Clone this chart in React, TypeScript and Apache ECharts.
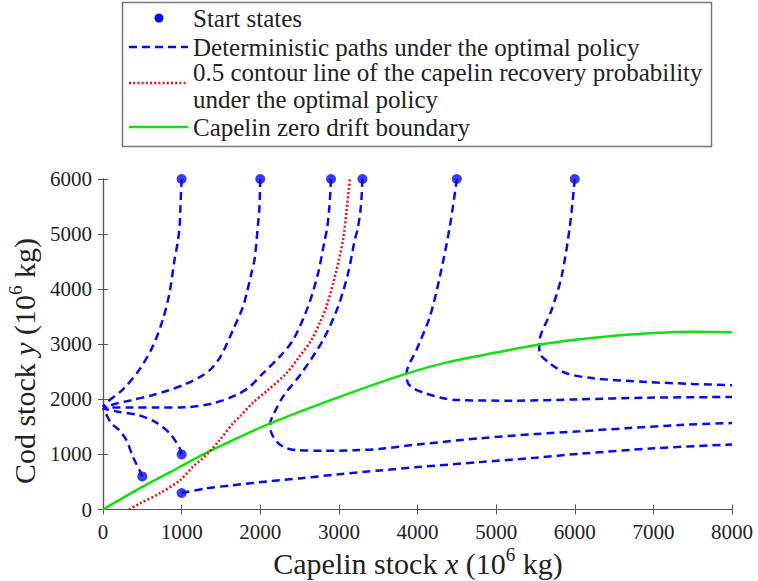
import React, { useEffect, useRef } from "react";
import * as echarts from "echarts";

// Axis ranges and tick spacing (10^6 kg)
const xRange = [0, 8000];
const yRange = [0, 6000];
const tickStep = 1000;

// Start states of the simulated trajectories
const startStates: number[][] = [
  [1000, 6000], [2000, 6000], [2900, 6000], [3300, 6000], [4500, 6000], [6000, 6000],
  [500, 600], [1000, 1000], [1000, 300],
];

// Deterministic paths under the optimal policy, as [capelin, cod] pairs
const pathFrom1000High: number[][] = [
  [1000, 6000], [985, 5500], [975, 5152], [950, 4850], [911, 4545], [847, 3939], [763, 3455],
  [636, 2970], [466, 2545], [254, 2182], [42, 1939], [0, 1860],
];
const pathFrom2000High: number[][] = [
  [2000, 6000], [1990, 5500], [1970, 5152], [1928, 4545], [1888, 4288], [1830, 3939],
  [1781, 3682], [1654, 3259], [1504, 2800], [1380, 2560], [1252, 2420], [1039, 2270],
  [827, 2160], [616, 2070], [361, 1985], [149, 1915], [20, 1860],
];
const pathFrom2900High: number[][] = [
  [2900, 6000], [2880, 5500], [2850, 5100], [2820, 4893], [2735, 4288], [2608, 3682],
  [2417, 3077], [2248, 2775], [2035, 2473], [1866, 2230], [1697, 2079], [1398, 1927],
  [1059, 1858], [700, 1852], [381, 1852], [100, 1852], [0, 1848],
];
const pathFrom3300High: number[][] = [
  [3300, 6000], [3280, 5500], [3240, 5100], [3202, 4893], [3117, 4288], [2990, 3682],
  [2799, 3077], [2524, 2473], [2290, 2049], [2160, 1700], [2127, 1564], [2135, 1420],
  [2170, 1310], [2240, 1190], [2330, 1115], [2450, 1080], [2800, 1065], [3200, 1075],
  [3520, 1100], [4000, 1180], [4800, 1293], [5500, 1370], [6064, 1420], [6700, 1480],
  [7335, 1534], [8000, 1570],
];
const pathFrom4500High: number[][] = [
  [4500, 6000], [4411, 5134], [4284, 4227], [4157, 3500], [3987, 2896], [3860, 2467],
  [3880, 2291], [3960, 2190], [4100, 2110], [4300, 2030], [4496, 1988], [5217, 1976],
  [6064, 2000], [6913, 2030], [8000, 2042],
];
const pathFrom6000High: number[][] = [
  [6000, 6000], [5937, 5134], [5832, 4227], [5705, 3622], [5547, 3012], [5556, 2836],
  [5683, 2654], [5895, 2473], [6234, 2382], [6913, 2315], [7500, 2280], [8000, 2255],
];
const pathFrom500Low: number[][] = [
  [500, 600], [467, 709], [382, 951], [297, 1262], [200, 1450], [106, 1565], [40, 1730], [0, 1840],
];
const pathFrom1000Mid: number[][] = [
  [1000, 1000], [976, 1111], [849, 1383], [658, 1594], [445, 1716], [191, 1776], [60, 1815], [0, 1840],
];
const pathFrom1000Low: number[][] = [
  [1000, 300], [1300, 380], [1653, 442], [2100, 510], [2500, 564], [3000, 640], [3520, 709],
  [4000, 770], [4792, 860], [5500, 940], [6064, 1012], [7000, 1110], [8000, 1182],
];

// 0.5 contour of the capelin recovery probability
const recoveryContour: number[][] = [
  [331, 0], [466, 109], [720, 291], [976, 527], [1145, 777], [1315, 990], [1485, 1262],
  [1654, 1565], [1739, 1685], [1900, 1930], [2099, 2170], [2333, 2473], [2500, 2780],
  [2651, 3077], [2760, 3400], [2842, 3682], [2960, 4288], [3053, 4893], [3100, 5450], [3140, 6000],
];

// Capelin zero drift boundary
const zeroDrift: number[][] = [
  [0, 0], [500, 410], [1000, 790], [1357, 1060], [2121, 1558], [3000, 2040], [3860, 2467],
  [4400, 2680], [5000, 2850], [5500, 2980], [6000, 3080], [6500, 3155], [7000, 3205],
  [7500, 3228], [8000, 3220],
];

const deterministicPaths = [
  pathFrom1000High, pathFrom2000High, pathFrom2900High, pathFrom3300High,
  pathFrom4500High, pathFrom6000High, pathFrom500Low, pathFrom1000Mid, pathFrom1000Low,
];

const legendLabels = [
  "Start states",
  "Deterministic paths under the optimal policy",
  "0.5 contour line of the capelin recovery probability",
  "under the optimal policy",
  "Capelin zero drift boundary",
];

const FONT = "serif";
const BLUE = "#0a0af0";
const RED = "#f01010";
const GREEN = "#10e010";
const AXIS = "#555555";
const TEXT = "#222222";
const DASH = [8, 5];
const DOT = [2, 2.2];

export default function App() {
  const ref = useRef<HTMLDivElement>(null);

  useEffect(() => {
    if (!ref.current) return;
    const chart = echarts.init(ref.current, undefined, { renderer: "svg" });

    const axisCommon = {
      type: "value" as const,
      interval: tickStep,
      splitLine: { show: false },
      axisLine: { show: true, lineStyle: { color: AXIS, width: 1.2 } },
      axisTick: { show: true, inside: true, length: 5, lineStyle: { color: AXIS } },
    };

    const tickLabel = {
      fontFamily: FONT, fontSize: 21, color: TEXT,
      formatter: (v: number) => String(v),
    };

    const titleRich = {
      a: { fontFamily: FONT, fontSize: 30, fill: TEXT },
      i: { fontFamily: FONT, fontSize: 30, fontStyle: "italic", fill: TEXT },
      s: { fontFamily: FONT, fontSize: 19, fill: TEXT, padding: [0, 0, 17, 0] },
    };

    const lx0 = 129, lx1 = 188, tx = 193;
    const legendRows = [18, 47, 72, 99, 127];

    const option: any = {
      animation: false,
      textStyle: { fontFamily: FONT },
      grid: { left: 103, right: 26, top: 179, bottom: 71.5 },
      xAxis: [
        {
          ...axisCommon,
          min: xRange[0], max: xRange[1], position: "bottom",
          axisLabel: { ...tickLabel, margin: 12 },
        },
        {
          ...axisCommon,
          min: xRange[0], max: xRange[1], position: "top",
          axisLabel: { show: false },
        },
      ],
      yAxis: [
        {
          ...axisCommon,
          min: yRange[0], max: yRange[1], position: "left",
          axisLabel: { ...tickLabel, margin: 11 },
        },
        {
          ...axisCommon,
          min: yRange[0], max: yRange[1], position: "right",
          axisLabel: { show: false },
        },
      ],
      series: [
        ...deterministicPaths.map((d, k) => ({
          name: "path" + k,
          type: "line",
          data: d,
          smooth: 0.3,
          symbol: "none",
          lineStyle: { color: BLUE, width: 2.5, type: DASH },
          z: 2,
        })),
        {
          name: "zero drift",
          type: "line",
          data: zeroDrift,
          smooth: 0.3,
          symbol: "none",
          lineStyle: { color: GREEN, width: 2.5 },
          z: 3,
        },
        {
          name: "contour",
          type: "line",
          data: recoveryContour,
          smooth: 0.3,
          symbol: "none",
          lineStyle: { color: RED, width: 2.6, type: DOT },
          z: 4,
        },
        {
          name: "start",
          type: "scatter",
          data: startStates,
          symbol: "circle",
          symbolSize: 10,
          clip: false,
          itemStyle: { color: BLUE },
          z: 5,
        },
      ],
      graphic: [
        {
          type: "text",
          x: 24, y: 361, rotation: Math.PI / 2,
          style: {
            text: "{a|Cod stock }{i|y}{a| (10}{s|6}{a| kg)}",
            rich: titleRich, align: "center", verticalAlign: "middle",
          },
        },
        {
          type: "text",
          x: 418, y: 563,
          style: {
            text: "{a|Capelin stock }{i|x}{a| (10}{s|6}{a| kg)}",
            rich: titleRich, align: "center", verticalAlign: "middle",
          },
        },
        {
          type: "rect",
          shape: { x: 122.5, y: 2.5, width: 589, height: 144 },
          style: { fill: "#ffffff", stroke: "#777777", lineWidth: 1.5 },
          z: 10,
        },
        {
          type: "circle",
          shape: { cx: 159, cy: legendRows[0], r: 4.5 },
          style: { fill: BLUE },
          z: 11,
        },
        {
          type: "line",
          shape: { x1: lx0, y1: legendRows[1], x2: lx1, y2: legendRows[1] },
          style: { stroke: BLUE, lineWidth: 2.5, lineDash: DASH },
          z: 11,
        },
        {
          type: "line",
          shape: { x1: lx0, y1: 83, x2: lx1, y2: 83 },
          style: { stroke: RED, lineWidth: 2.6, lineDash: DOT },
          z: 11,
        },
        {
          type: "line",
          shape: { x1: lx0, y1: legendRows[4], x2: lx1, y2: legendRows[4] },
          style: { stroke: GREEN, lineWidth: 2.5 },
          z: 11,
        },
        ...legendLabels.map((t, k) => ({
          type: "text",
          x: tx, y: legendRows[k],
          z: 11,
          style: {
            text: t, fill: TEXT, fontFamily: FONT, fontSize: 25,
            align: "left", verticalAlign: "middle",
          },
        })),
      ],
    };

    chart.setOption(option);
    return () => chart.dispose();
  }, []);

  return (
    <div
      ref={ref}
      style={{ position: "absolute", left: 0, top: 0, width: 758, height: 581 }}
    />
  );
}
